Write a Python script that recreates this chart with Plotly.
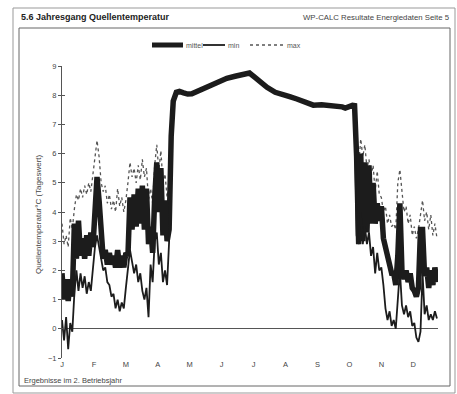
import plotly.graph_objects as go

# ---------------- data ----------------
months = ["J", "F", "M", "A", "M", "J", "J", "A", "S", "O", "N", "D"]
month_pos = [0, 31, 62, 93, 124, 155, 186, 217, 248, 279, 310, 341]

days_w1 = list(range(0, 105, 2))          # Jan .. mid April (every 2nd day)
days_s = [106, 108, 111, 114, 118, 122, 126, 135, 144, 152, 160, 168, 176, 182,
          187, 192, 199, 207, 214, 221, 228, 236, 244, 252, 260, 267, 272, 275,
          279, 282, 284]                  # summer, all three series coincide
days_w2 = list(range(286, 365, 2))        # mid Oct .. Dec

mittel_w1 = [1.9, 1.0, 1.7, 0.95, 1.7, 1.1, 3.6, 2.4, 3.7, 2.5, 3.1, 2.4, 3.2, 2.5,
             3.3, 2.8, 4.0, 5.2, 4.4, 3.0, 2.4, 2.7, 2.2, 2.6, 2.2, 2.5, 2.1, 2.7,
             2.1, 2.5, 2.1, 2.6, 2.5, 4.5, 3.4, 4.6, 3.5, 4.8, 3.6, 4.9, 3.4, 4.8,
             2.9, 3.5, 2.6, 4.5, 5.7, 4.0, 5.5, 3.2, 4.4, 3.0, 3.4]
summer = [6.6, 7.8, 8.1, 8.13, 8.08, 8.04, 8.05, 8.2, 8.35, 8.47, 8.58, 8.65, 8.71,
          8.76, 8.62, 8.47, 8.27, 8.1, 8.0, 7.95, 7.87, 7.74, 7.66, 7.67, 7.66,
          7.63, 7.6, 7.56, 7.62, 7.65, 7.64]
mittel_w2 = [5.9, 2.9, 6.0, 3.0, 5.7, 3.3, 5.6, 3.6, 5.0, 3.6, 4.3, 3.7, 4.2, 3.1,
             2.8, 2.4, 2.2, 1.9, 1.9, 1.5, 2.5, 4.3, 2.0, 1.7, 2.0, 1.6, 1.9, 1.4,
             1.3, 1.1, 1.4, 3.4, 3.4, 1.8, 2.1, 1.4, 2.0, 1.5, 2.1, 1.6]

min_w1 = [0.3, -0.4, 0.4, -0.7, 0.2, -0.1, 1.2, 2.0, 1.3, 1.9, 1.4, 1.8, 1.2, 1.6,
          1.3, 2.0, 2.8, 3.2, 2.8, 2.4, 2.0, 2.1, 1.6, 1.5, 1.1, 1.2, 0.7, 1.0,
          0.6, 0.9, 0.7, 1.4, 2.0, 2.7, 2.3, 1.9, 2.2, 1.6, 1.9, 1.3, 1.0, 1.4,
          0.4, 2.2, 1.6, 3.0, 3.3, 2.2, 2.6, 1.6, 2.0, 1.5, 3.0]
min_w2 = [3.2, 2.9, 4.0, 2.9, 3.5, 2.9, 3.3, 2.5, 2.8, 1.9, 2.6, 2.0, 2.1, 1.5,
          0.7, 0.3, 0.6, 0.1, 0.3, 0.0, 1.0, 2.0, 0.8, 0.5, 0.8, 0.4, 0.6, 0.1,
          0.2, -0.3, -0.45, -0.1, 1.9, 0.5, 0.8, 0.3, 0.5, 0.3, 0.6, 0.35]

max_w1 = [3.6, 2.9, 3.2, 2.8, 3.8, 3.4, 4.1, 4.6, 4.4, 4.8, 4.5, 4.9, 4.6, 5.0,
          4.7, 5.3, 5.7, 6.45, 5.9, 5.0, 4.7, 4.9, 4.3, 4.6, 4.1, 4.4, 4.0, 4.8,
          4.2, 4.5, 4.0, 4.4, 5.0, 5.7, 5.2, 5.5, 5.0, 5.6, 5.1, 5.8, 5.2, 5.5,
          4.4, 4.8, 4.3, 5.6, 6.3, 5.4, 6.1, 5.0, 5.3, 4.5, 5.0]
max_w2 = [6.2, 5.6, 6.5, 5.9, 6.3, 5.5, 5.8, 5.2, 5.6, 4.7, 5.4, 4.6, 4.5, 4.0,
          4.2, 3.6, 3.9, 3.5, 3.6, 3.4, 5.0, 5.45, 4.6, 4.0, 4.2, 3.6, 3.9, 3.2,
          3.5, 3.1, 3.4, 4.0, 4.4, 3.7, 4.0, 3.4, 3.9, 3.2, 3.6, 3.1]

days = days_w1 + days_s + days_w2
mittel = mittel_w1 + summer + mittel_w2
tmin = min_w1 + summer + min_w2
tmax = max_w1 + summer + max_w2

# ---------------- figure ----------------
W, H = 457, 394
L, R, T, B = 62, 19, 66, 36
PW, PH = W - L - R, H - T - B


def px(x):
    return (x - L) / PW


def py(y):
    return (H - B - y) / PH


ink = "#1c1c1c"
fig = go.Figure()
fig.add_trace(go.Scatter(x=days, y=tmax, mode="lines", name="max",
                         line=dict(color="#555555", width=1.3, dash="dot")))
fig.add_trace(go.Scatter(x=days, y=mittel, mode="lines", name="mittel",
                         line=dict(color=ink, width=5.5)))
fig.add_trace(go.Scatter(x=days, y=tmin, mode="lines", name="min",
                         line=dict(color=ink, width=1.8)))

font = "Liberation Sans, Arial, sans-serif"
fig.update_layout(
    width=W, height=H, margin=dict(l=L, r=R, t=T, b=B),
    paper_bgcolor="white", plot_bgcolor="white", showlegend=False,
    font=dict(family=font, color="#333"),
    xaxis=dict(range=[0, 365], tickvals=month_pos, ticktext=months,
               showgrid=False, zeroline=False, showline=False, ticks="",
               tickfont=dict(size=7.5, color="#444")),
    yaxis=dict(range=[-1, 9], dtick=1, showgrid=False, zeroline=True,
               zerolinecolor="#555", zerolinewidth=1,
               showline=True, linecolor="#555", linewidth=1,
               ticks="outside", ticklen=3, tickcolor="#555",
               tickfont=dict(size=7.5, color="#444")),
    yaxis2=dict(range=[-1, 9], dtick=1, overlaying="y", side="left",
                showgrid=False, zeroline=False, showline=False,
                ticks="inside", ticklen=3, tickcolor="#555",
                showticklabels=False),
)
fig.add_trace(go.Scatter(x=[None], y=[None], yaxis="y2", showlegend=False))

shapes = []
# outer frame and inner frame
shapes.append(dict(type="rect", xref="paper", yref="paper", x0=px(13), x1=px(455),
                   y0=py(393), y1=py(8), line=dict(color="#999", width=1)))
shapes.append(dict(type="rect", xref="paper", yref="paper", x0=px(19), x1=px(450),
                   y0=py(386), y1=py(28), line=dict(color="#666", width=1)))
# legend symbols
shapes.append(dict(type="line", xref="paper", yref="paper", x0=px(152), x1=px(183),
                   y0=py(45), y1=py(45), line=dict(color=ink, width=5)))
shapes.append(dict(type="line", xref="paper", yref="paper", x0=px(203), x1=px(225),
                   y0=py(45), y1=py(45), line=dict(color=ink, width=1.8)))
shapes.append(dict(type="line", xref="paper", yref="paper", x0=px(250), x1=px(283),
                   y0=py(45), y1=py(45), line=dict(color="#555", width=1.3, dash="dot")))
fig.update_layout(shapes=shapes)

ann = [
    dict(text="<b>5.6 Jahresgang Quellentemperatur</b>", x=px(19), y=py(17),
         xanchor="left", yanchor="middle", font=dict(size=9, color="#222")),
    dict(text="WP-CALC Resultate Energiedaten Seite 5", x=px(452), y=py(17),
         xanchor="right", yanchor="middle", font=dict(size=7.8, color="#444")),
    dict(text="mittel", x=px(184), y=py(45), xanchor="left", yanchor="middle",
         font=dict(size=7, color="#555")),
    dict(text="min", x=px(226), y=py(45), xanchor="left", yanchor="middle",
         font=dict(size=7, color="#555")),
    dict(text="max", x=px(285), y=py(45), xanchor="left", yanchor="middle",
         font=dict(size=7, color="#555")),
    dict(text="Quellentemperatur°C (Tageswert)", x=px(38), y=py(214), textangle=-90,
         xanchor="center", yanchor="middle", font=dict(size=8, color="#444")),
    dict(text="Ergebnisse im 2. Betriebsjahr", x=px(22), y=py(380),
         xanchor="left", yanchor="middle", font=dict(size=7.5, color="#444")),
]
for a in ann:
    a.update(xref="paper", yref="paper", showarrow=False)
fig.update_layout(annotations=ann)

fig.write_html("out.html", config={"displayModeBar": False})

# remove the browser's default page margin so the figure sits at (0, 0)
with open("out.html", encoding="utf-8") as f:
    html = f.read()
html = html.replace("<head>", "<head><style>html,body{margin:0;padding:0;overflow:hidden;}</style>", 1)
with open("out.html", "w", encoding="utf-8") as f:
    f.write(html)
